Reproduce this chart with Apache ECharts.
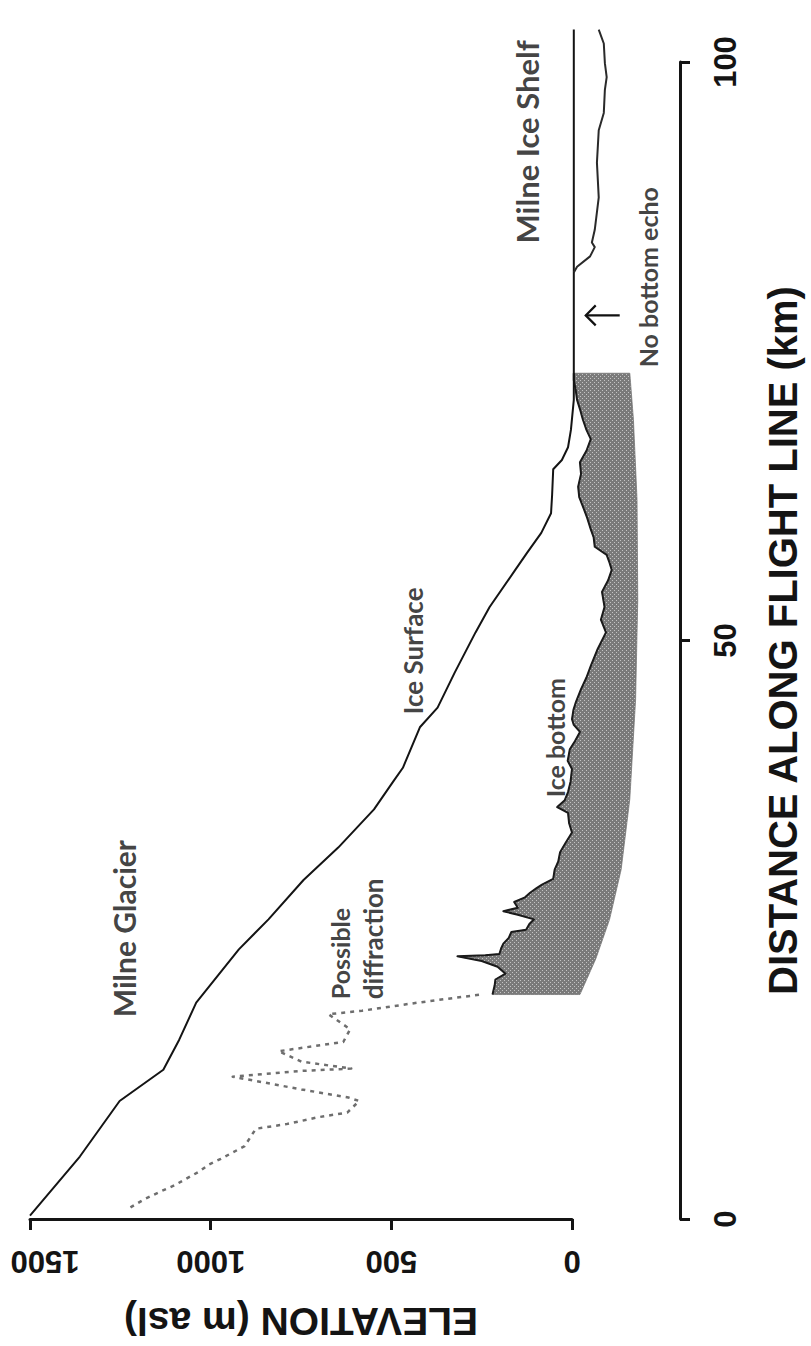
<!DOCTYPE html>
<html>
<head>
<meta charset="utf-8">
<script src="https://cdn.jsdelivr.net/npm/echarts@6/dist/echarts.min.js"></script>
<style>
  html, body { margin: 0; padding: 0; background: #ffffff; }
  #chart { width: 811px; height: 1346px; }
</style>
</head>
<body>
<div id="chart"></div>
<script>
// Radar profile along the flight line: Milne Glacier down onto the Milne Ice Shelf.
// Every pair is [distance along flight line (km), elevation (m asl)].

const surface = [
  [0.3, 1500], [5.4, 1362], [10.2, 1252], [12.9, 1131], [15.5, 1087], [18.7, 1040],
  [23.3, 922], [25.9, 840], [29.3, 743], [32.1, 647], [35.4, 548], [37.8, 495],
  [39.0, 468], [42.5, 421], [44.2, 372], [47.2, 325], [50.7, 267], [52.9, 228],
  [56.1, 157], [57.6, 124], [59.3, 85], [61.0, 58], [62.6, 55], [64.8, 52],
  [65.6, 28], [66.7, 11], [68.2, 3], [70.8, -5], [102.8, -5]
];

// uncertain bed return (possible diffraction), drawn dashed
const dottedBottom = [
  [1.0, 1222], [1.7, 1184], [2.4, 1137], [2.9, 1101], [4.1, 1032], [4.7, 1005],
  [5.2, 972], [6.3, 906], [7.8, 875], [8.2, 790], [8.8, 702], [9.2, 622],
  [10.2, 589], [10.5, 619], [11.2, 749], [12.3, 939], [12.8, 749], [13.0, 611],
  [13.6, 749], [14.5, 812], [15.3, 633], [16.4, 614], [17.7, 674], [18.0, 581],
  [18.7, 427], [19.4, 253]
];

// picked ice bottom
const iceBottom = [
  [19.4, 220], [20.2, 214], [20.7, 212], [21.2, 184], [21.8, 206], [22.3, 250],
  [22.7, 317], [22.8, 240], [22.9, 201], [23.4, 196], [23.8, 190], [24.3, 175],
  [24.8, 168], [25.0, 127], [25.5, 118], [25.9, 105], [26.3, 150], [26.6, 190],
  [26.9, 150], [27.4, 160], [27.8, 130], [28.2, 116], [28.6, 98], [28.9, 83],
  [29.4, 52], [30.2, 48], [30.9, 38], [31.7, 33], [32.5, 18], [33.4, 0],
  [34.2, 8], [35.1, 11], [35.6, 41], [36.2, 20], [36.9, 11], [37.8, 4],
  [38.9, 0], [39.6, 12], [40.6, 6], [41.3, -8], [42.1, -22], [42.7, -5],
  [43.2, 0], [44.0, -4], [44.7, -11], [45.8, -25], [46.8, -40], [47.8, -52],
  [49.2, -70], [50.7, -94], [51.8, -80], [52.9, -90], [54.2, -83], [55.2, -100],
  [56.1, -110], [56.8, -103], [57.4, -96], [58.1, -63], [58.9, -60], [59.6, -52],
  [60.6, -42], [61.6, -30], [62.4, -20], [63.3, -17], [64.4, -25], [65.4, -22],
  [66.4, -40], [67.4, -52], [68.2, -40], [69.1, -30], [70.0, -22], [70.8, -14],
  [71.7, -10], [72.5, -5], [73.1, -5]
];

// lower edge of the shaded bed band
const bedBase = [
  [19.4, -22], [22.5, -66], [25.9, -104], [30.2, -136], [36.3, -160],
  [44.9, -176], [53.5, -182], [62.2, -180], [69.1, -170], [73.1, -160]
];

// floating ice shelf underside
const shelfBottom = [
  [81.8, -5], [82.3, -14], [83.2, -50], [84.0, -63], [84.4, -55], [85.5, -63],
  [88.3, -74], [91.3, -69], [94.1, -74], [95.6, -88], [97.6, -91], [98.7, -96],
  [99.9, -91], [101.6, -88], [102.8, -74]
];

const elevationTicks = [0, 500, 1000, 1500];
const distanceTicks = [0, 50, 100];

// text annotations: [distance, elevation] of the anchor
const notes = [
  { text: 'Milne Glacier', at: [25.1, 1241], size: 30, align: 'center' },
  { text: 'Milne Ice Shelf', at: [93.1, 124], size: 31, align: 'center' },
  { text: 'Ice Surface', at: [49.1, 440], size: 26, align: 'center' },
  { text: 'Ice bottom', at: [41.6, 47], size: 25, align: 'center' },
  { text: 'Possible', at: [19.0, 641], size: 25, align: 'left' },
  { text: 'diffraction', at: [19.0, 550], size: 26, align: 'left' },
  { text: 'No bottom echo', at: [81.4, -209], size: 25, align: 'center' }
];
// arrow pointing from the no-echo gap towards the surface
const arrowAt = [78.1, -85];

const AXIS_FONT = 'Liberation Sans';
const NOTE_FONT = 'Lato';
const INK = '#141414';

// speckled grey fill for the bed band
function stipple() {
  const c = document.createElement('canvas');
  c.width = 4; c.height = 4;
  const g = c.getContext('2d');
  g.fillStyle = '#7a7a7a';
  g.fillRect(0, 0, 4, 4);
  g.fillStyle = '#c4c4c4';
  g.fillRect(0, 0, 1, 1);
  g.fillRect(2, 2, 1, 1);
  return c.toDataURL();
}
const bandFill = { image: stipple(), repeat: 'repeat' };

// chart x = elevation, chart y = distance
const toXY = p => [p[1], p[0]];

// polyline through the cartesian scales (also draws below sea level, outside the axis span)
function profile(name, pts, style, z) {
  return {
    name, type: 'custom', clip: false, silent: true, z,
    data: [[0, 0]], encode: { x: 0, y: 1 },
    renderItem: (params, api) => ({
      type: 'polyline',
      shape: { points: pts.map(p => api.coord(toXY(p))) },
      style: Object.assign({ fill: null, lineJoin: 'round' }, style)
    })
  };
}

const chart = echarts.init(document.getElementById('chart'), null, { renderer: 'svg' });

chart.setOption({
  animation: false,
  backgroundColor: '#ffffff',
  grid: { left: 30, right: 236, top: 62, bottom: 126, containLabel: false },
  xAxis: {
    type: 'value',
    inverse: true,
    min: elevationTicks[0],
    max: elevationTicks[elevationTicks.length - 1],
    interval: elevationTicks[1] - elevationTicks[0],
    position: 'bottom',
    axisLine: { show: true, onZero: false, lineStyle: { color: INK, width: 3 } },
    axisTick: { show: true, inside: false, length: 11, lineStyle: { color: INK, width: 3 } },
    splitLine: { show: false },
    axisLabel: {
      rotate: 180,
      margin: 27,
      fontFamily: AXIS_FONT, fontWeight: 'bold', fontSize: 31, color: INK,
      formatter: v => v === elevationTicks[elevationTicks.length - 1] ? '{edge|' + v + '}' : String(v),
      rich: { edge: { padding: [0, 30, 0, 0], fontFamily: AXIS_FONT, fontWeight: 'bold', fontSize: 31, color: INK } }
    },
    name: 'ELEVATION (m asl)',
    nameLocation: 'middle',
    nameRotate: 180,
    nameGap: 83,
    nameTextStyle: { fontFamily: AXIS_FONT, fontWeight: 'bold', fontSize: 39, color: INK }
  },
  yAxis: {
    type: 'value',
    min: distanceTicks[0],
    max: distanceTicks[distanceTicks.length - 1],
    interval: distanceTicks[1] - distanceTicks[0],
    position: 'right',
    offset: 108,
    axisLine: { show: true, onZero: false, lineStyle: { color: INK, width: 3 } },
    axisTick: { show: true, inside: false, length: 10, lineStyle: { color: INK, width: 3 } },
    splitLine: { show: false },
    axisLabel: {
      rotate: 90,
      margin: 30,
      fontFamily: AXIS_FONT, fontWeight: 'bold', fontSize: 31, color: INK
    },
    name: 'DISTANCE ALONG FLIGHT LINE (km)',
    nameLocation: 'middle',
    nameRotate: 90,
    nameGap: 83,
    nameTextStyle: { fontFamily: AXIS_FONT, fontWeight: 'bold', fontSize: 40, color: INK }
  },
  series: [
    {
      name: 'bed band',
      type: 'custom',
      clip: false,
      data: [[0, 0]],
      encode: { x: 0, y: 1 },
      silent: true,
      z: 1,
      renderItem: (params, api) => {
        const top = iceBottom.map(p => api.coord(toXY(p)));
        const base = bedBase.slice().reverse().map(p => api.coord(toXY(p)));
        return {
          type: 'polygon',
          shape: { points: top.concat(base) },
          style: { fill: bandFill, stroke: 'rgba(110,110,110,0.7)', lineWidth: 1 }
        };
      }
    },
    profile('Ice bottom', iceBottom, { stroke: '#1a1a1a', lineWidth: 2 }, 3),
    profile('Possible diffraction', dottedBottom, { stroke: '#6e6e6e', lineWidth: 2.5, lineDash: [4, 5] }, 3),
    profile('Ice Surface', surface, { stroke: INK, lineWidth: 2 }, 4),
    profile('Shelf bottom', shelfBottom, { stroke: '#2a2a2a', lineWidth: 2 }, 4),
    {
      name: 'arrow',
      type: 'custom',
      clip: false,
      silent: true,
      z: 5,
      data: [[0, 0]],
      encode: { x: 0, y: 1 },
      renderItem: (params, api) => {
        const c = api.coord(toXY(arrowAt));
        const tip = [c[0] - 17, c[1]];
        return {
          type: 'group',
          children: [
            { type: 'line', shape: { x1: c[0] + 17, y1: c[1], x2: tip[0], y2: tip[1] },
              style: { stroke: '#111', lineWidth: 2.2 } },
            { type: 'polyline', shape: { points: [[tip[0] + 10, tip[1] - 10], tip, [tip[0] + 10, tip[1] + 10]] },
              style: { stroke: '#111', lineWidth: 2.2, fill: null } }
          ]
        };
      }
    },
    {
      name: 'notes',
      type: 'scatter',
      symbolSize: 0,
      clip: false,
      silent: true,
      z: 6,
      data: notes.map(n => ({
        value: toXY(n.at),
        label: {
          show: true,
          formatter: n.text,
          position: 'inside',
          rotate: 90,
          align: n.align,
          verticalAlign: 'middle',
          fontFamily: NOTE_FONT,
          fontWeight: 'bold',
          fontSize: n.size,
          color: '#111111'
        }
      }))
    }
  ]
});
</script>
</body>
</html>
